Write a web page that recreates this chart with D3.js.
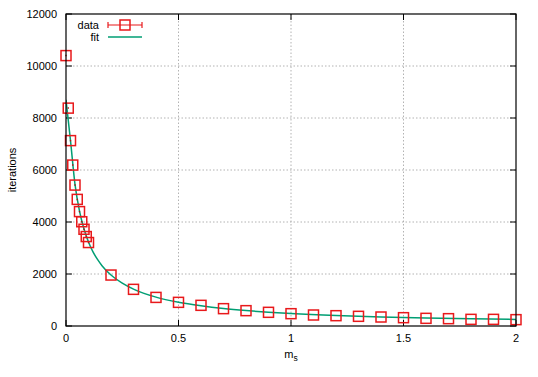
<!DOCTYPE html>
<html>
<head>
<meta charset="utf-8">
<script src="https://cdn.jsdelivr.net/npm/d3@7"></script>
<style>
  body { margin: 0; background: #fff; }
  svg { font-family: "Liberation Sans", Arial, sans-serif; }
</style>
</head>
<body>
<svg id="chart" width="538" height="377"></svg>
<script>
// measured points (m_s vs iterations)
const ms = [0, 0.01, 0.02, 0.03, 0.04, 0.05, 0.06, 0.07, 0.08, 0.09, 0.1,
  0.2, 0.3, 0.4, 0.5, 0.6, 0.7, 0.8, 0.9, 1.0, 1.1, 1.2, 1.3, 1.4, 1.5, 1.6, 1.7, 1.8, 1.9, 2.0]
const iterations = [10400, 8380, 7130, 6190, 5420, 4870, 4400, 4010, 3720, 3440, 3210,
  1960, 1410, 1100, 910, 795, 667, 590, 526, 474, 423, 397, 372, 346, 320, 295, 282, 256, 256, 244]
const msErr = [0.003, 0.003, 0.003, 0.003, 0.003, 0.003, 0.003, 0.003, 0.003, 0.003, 0.003,
  0, 0, 0, 0, 0, 0, 0, 0, 0, 0, 0, 0, 0, 0, 0, 0, 0, 0, 0]

// fit curve
const fitX = [0, 0.02, 0.04, 0.06, 0.08, 0.1, 0.12, 0.14, 0.16, 0.2, 0.25, 0.3, 0.4, 0.5,
  0.6, 0.7, 0.8, 0.9, 1.0, 1.2, 1.4, 1.6, 1.8, 2.0]
const fitY = [8700, 7130, 5450, 4420, 3730, 3230, 2850, 2560, 2320, 1960, 1650, 1420, 1110, 915,
  780, 675, 595, 530, 478, 400, 345, 305, 275, 252]

const xTicks = [0, 0.5, 1, 1.5, 2]
const yTicks = [0, 2000, 4000, 6000, 8000, 10000, 12000]

const svg = d3.select("#chart")
const mLeft = 66, mRight = 516, mTop = 14, mBottom = 326
const red = "#e8191b", green = "#009e73"
const fs = 11

const x = d3.scaleLinear().domain([0, 2]).range([mLeft, mRight])
const y = d3.scaleLinear().domain([0, 12000]).range([mBottom, mTop])

// grid
svg.append("g").selectAll("line").data(xTicks.slice(1, -1)).join("line")
  .attr("x1", d => x(d)).attr("x2", d => x(d))
  .attr("y1", mTop).attr("y2", mBottom)
  .attr("stroke", "#a0a0a0").attr("stroke-width", 0.8).attr("stroke-dasharray", "1.5,2")
svg.append("g").selectAll("line").data(yTicks.slice(1, -1)).join("line")
  .attr("y1", d => y(d)).attr("y2", d => y(d))
  .attr("x1", mLeft).attr("x2", mRight)
  .attr("stroke", "#a0a0a0").attr("stroke-width", 0.8).attr("stroke-dasharray", "1.5,2")

// ticks, inward on all four sides
const tk = svg.append("g").attr("stroke", "#000").attr("stroke-width", 1)
xTicks.forEach(t => {
  tk.append("line").attr("x1", x(t)).attr("x2", x(t)).attr("y1", mBottom).attr("y2", mBottom - 6)
  tk.append("line").attr("x1", x(t)).attr("x2", x(t)).attr("y1", mTop).attr("y2", mTop + 6)
})
yTicks.forEach(t => {
  tk.append("line").attr("y1", y(t)).attr("y2", y(t)).attr("x1", mLeft).attr("x2", mLeft + 6)
  tk.append("line").attr("y1", y(t)).attr("y2", y(t)).attr("x1", mRight).attr("x2", mRight - 6)
})

svg.append("g").selectAll("text").data(xTicks).join("text")
  .attr("x", d => x(d)).attr("y", mBottom + 16)
  .attr("text-anchor", "middle").attr("font-size", fs)
  .text(d => d3.format("")(d))
svg.append("g").selectAll("text").data(yTicks).join("text")
  .attr("x", mLeft - 9).attr("y", d => y(d) + 4)
  .attr("text-anchor", "end").attr("font-size", fs)
  .text(d => d)

// fit line
const clip = svg.append("clipPath").attr("id", "clip")
clip.append("rect").attr("x", mLeft).attr("y", mTop).attr("width", mRight - mLeft).attr("height", mBottom - mTop)
svg.append("path")
  .datum(fitX.map((d, i) => [d, fitY[i]]))
  .attr("clip-path", "url(#clip)")
  .attr("fill", "none").attr("stroke", green).attr("stroke-width", 1.5)
  .attr("d", d3.line().x(d => x(d[0])).y(d => y(d[1])).curve(d3.curveMonotoneX))

// data: error bars + squares
const pts = ms.map((d, i) => ({ x: d, y: iterations[i], e: msErr[i] }))
const g = svg.append("g")
g.selectAll("line.err").data(pts.filter(d => d.e > 0)).join("line")
  .attr("x1", d => x(d.x - d.e)).attr("x2", d => x(d.x + d.e))
  .attr("y1", d => y(d.y)).attr("y2", d => y(d.y))
  .attr("stroke", "#b01010").attr("stroke-width", 1.5)
g.selectAll("rect").data(pts).join("rect")
  .attr("x", d => x(d.x) - 5).attr("y", d => y(d.y) - 5)
  .attr("width", 10).attr("height", 10)
  .attr("fill", "none").attr("stroke", red).attr("stroke-width", 1.5)

// border
svg.append("rect").attr("x", mLeft).attr("y", mTop)
  .attr("width", mRight - mLeft).attr("height", mBottom - mTop)
  .attr("fill", "none").attr("stroke", "#000").attr("stroke-width", 1.2)

// legend
const lg = svg.append("g").attr("font-size", fs)
lg.append("text").attr("x", 99).attr("y", 29).attr("text-anchor", "end").text("data")
lg.append("line").attr("x1", 108).attr("x2", 142).attr("y1", 25).attr("y2", 25).attr("stroke", red).attr("stroke-width", 1.2)
lg.append("line").attr("x1", 108).attr("x2", 108).attr("y1", 22).attr("y2", 28).attr("stroke", red).attr("stroke-width", 1.2)
lg.append("line").attr("x1", 142).attr("x2", 142).attr("y1", 22).attr("y2", 28).attr("stroke", red).attr("stroke-width", 1.2)
lg.append("rect").attr("x", 120).attr("y", 20).attr("width", 10).attr("height", 10)
  .attr("fill", "none").attr("stroke", red).attr("stroke-width", 1.5)
lg.append("text").attr("x", 99).attr("y", 41).attr("text-anchor", "end").text("fit")
lg.append("line").attr("x1", 108).attr("x2", 142).attr("y1", 37).attr("y2", 37).attr("stroke", green).attr("stroke-width", 1.5)

// axis labels
svg.append("text").attr("transform", "translate(16,170) rotate(-90)")
  .attr("text-anchor", "middle").attr("font-size", fs).text("iterations")
const xl = svg.append("text").attr("x", 291).attr("y", 358).attr("text-anchor", "middle").attr("font-size", fs)
xl.append("tspan").text("m")
xl.append("tspan").attr("font-size", 8.5).attr("dy", 3).text("s")
</script>
</body>
</html>
